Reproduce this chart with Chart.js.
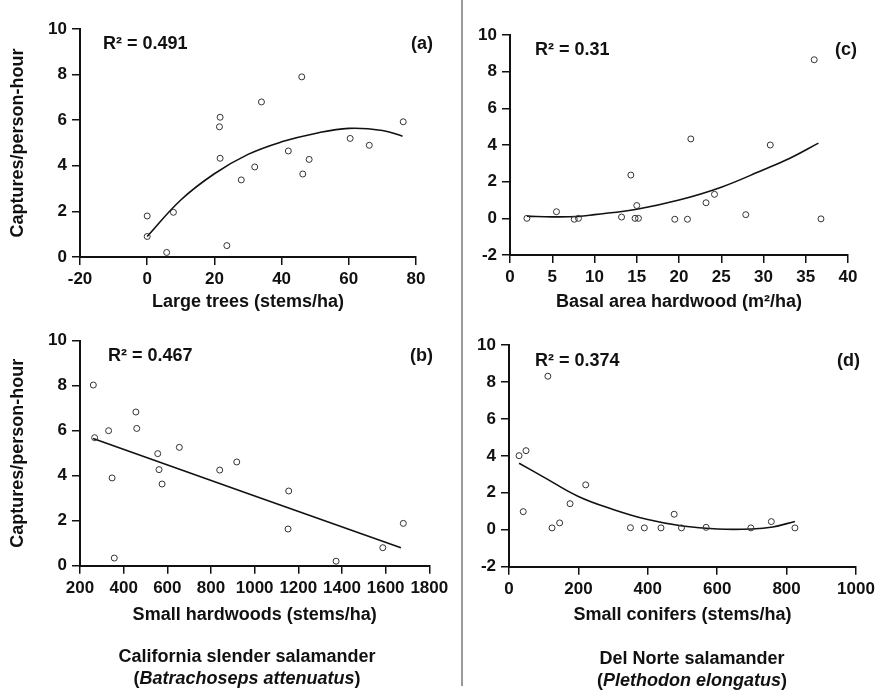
<!DOCTYPE html>
<html><head><meta charset="utf-8">
<script src="https://cdn.jsdelivr.net/npm/chart.js@4/dist/chart.umd.min.js"></script>
<style>
body{margin:0;background:#fff;width:881px;height:692px;position:relative;overflow:hidden;font-family:"Liberation Sans",Arial,sans-serif;}
canvas{position:absolute;}
.divider{position:absolute;left:461px;top:0;width:2px;height:686px;background:#9a9a9a;}
.cap{position:absolute;font-weight:bold;font-size:18px;color:#111;text-align:center;white-space:nowrap;transform:translateX(-50%);line-height:22px}
</style></head><body>
<canvas id="ca" width="440" height="320" style="left:0;top:0"></canvas>
<canvas id="cc" width="418" height="320" style="left:463px;top:0"></canvas>
<canvas id="cb" width="462" height="330" style="left:0;top:320px"></canvas>
<canvas id="cd" width="418" height="330" style="left:463px;top:320px"></canvas>
<div class="divider"></div>
<div class="cap" style="left:247px;top:645px">California slender salamander<br>(<i>Batrachoseps attenuatus</i>)</div>
<div class="cap" style="left:692px;top:647px">Del Norte salamander<br>(<i>Plethodon elongatus</i>)</div>
<script>
// ---- Data ----
// (a) Large trees vs captures
const largeTreesX = [0, 0, 5.8, 7.8, 21.7, 21.5, 21.7, 23.7, 28, 32, 34, 42, 46, 46.3, 48.2, 60.4, 66.1, 76.2];
const largeTreesY = [1.8, 0.9, 0.2, 1.96, 6.13, 5.71, 4.33, 0.5, 3.38, 3.95, 6.8, 4.65, 7.9, 3.64, 4.28, 5.2, 4.9, 5.93];
const largeTreesFitX = [0, 10, 20, 30, 40, 50, 60, 70, 76];
const largeTreesFitY = [0.9, 2.5, 3.65, 4.5, 5.05, 5.42, 5.64, 5.55, 5.3];
// (b) Small hardwoods
const smallHardX = [261, 267, 331, 347, 357, 456, 460, 556, 562, 576, 655, 840, 918, 1156, 1153, 1373, 1587, 1681];
const smallHardY = [8.03, 5.69, 6.0, 3.9, 0.34, 6.83, 6.1, 4.98, 4.27, 3.63, 5.26, 4.25, 4.61, 3.32, 1.63, 0.2, 0.8, 1.88];
const smallHardFitX = [260, 1670];
const smallHardFitY = [5.65, 0.8];
// (c) Basal area hardwood
const basalX = [2, 5.5, 7.6, 8.1, 13.2, 14.3, 14.8, 15, 15.2, 19.5, 21, 21.4, 23.2, 24.2, 27.9, 30.8, 36.0, 36.8];
const basalY = [0, 0.36, -0.05, 0, 0.07, 2.36, 0, 0.7, 0, -0.05, -0.05, 4.33, 0.85, 1.31, 0.2, 4.0, 8.65, -0.03];
const basalFitX = [2, 5, 8, 10, 15, 20, 25, 30, 33, 36.5];
const basalFitY = [0.12, 0.08, 0.1, 0.2, 0.5, 1.0, 1.7, 2.65, 3.25, 4.1];
// (d) Small conifers
const conifX = [29, 49, 41, 112, 124, 146, 176, 221, 350, 390, 438, 476, 497, 568, 697, 756, 824];
const conifY = [4.01, 4.28, 0.98, 8.31, 0.1, 0.37, 1.41, 2.43, 0.11, 0.1, 0.1, 0.84, 0.1, 0.13, 0.1, 0.44, 0.1];
const conifFitX = [29, 100, 200, 300, 400, 500, 600, 700, 760, 824];
const conifFitY = [3.6, 2.85, 1.8, 1.1, 0.55, 0.2, 0.04, 0.04, 0.15, 0.45];

const r2Labels = ['R\u00B2 = 0.491', 'R\u00B2 = 0.467', 'R\u00B2 = 0.31', 'R\u00B2 = 0.374'];
const panelTags = ['(a)', '(b)', '(c)', '(d)'];
const xTitles = ['Large trees (stems/ha)', 'Small hardwoods (stems/ha)', 'Basal area hardwood (m\u00B2/ha)', 'Small conifers (stems/ha)'];
const yTitle = 'Captures/person-hour';

// ---- helpers ----
const FONT = '"Liberation Sans", Arial, sans-serif';
const INK = '#111';
const zip = (xs, ys) => xs.map((x, i) => ({x, y: ys[i]}));

const annot = {
  id: 'annot',
  afterDraw(chart, args, o) {
    const ctx = chart.ctx; ctx.save();
    ctx.font = 'bold 18px ' + FONT;
    ctx.fillStyle = INK; ctx.textBaseline = 'middle';
    ctx.textAlign = 'left'; ctx.fillText(o.r2, o.rx, o.ry);
    ctx.textAlign = 'right'; ctx.fillText(o.tag, o.tx, o.ty);
    ctx.restore();
  }
};

function panel(id, p) {
  const axisCommon = {
    border: {display: true, color: '#111', width: 2},
    grid: {display: true, drawOnChartArea: false, drawTicks: true, tickLength: 8, tickColor: '#111', tickWidth: 1.5, lineWidth: 1.5},
  };
  new Chart(document.getElementById(id), {
    type: 'scatter',
    data: {datasets: [
      {data: zip(p.fx, p.fy), showLine: true, pointRadius: 0, borderColor: '#111', borderWidth: 1.6, tension: 0.4, clip: false, order: 2},
      {data: zip(p.x, p.y), pointRadius: 3, pointBorderWidth: 1, borderColor: '#333', backgroundColor: 'rgba(255,255,255,0)', clip: false, order: 1}
    ]},
    options: {
      responsive: false, animation: false, devicePixelRatio: 1,
      layout: {padding: p.pad},
      plugins: {legend: {display: false}, tooltip: {enabled: false}, annot: p.annot},
      scales: {
        x: Object.assign({}, axisCommon, {
          type: 'linear', min: p.xmin, max: p.xmax,
          afterFit: s => { s.height = p.xh; },
          ticks: {stepSize: p.xstep, autoSkip: false, maxRotation: 0, minRotation: 0, padding: 4, color: INK, font: {family: FONT, size: 17, weight: 'bold'}, callback: v => String(v)},
          title: {display: true, text: p.xtitle, color: INK, padding: {top: 0, bottom: 0}, font: {family: FONT, size: 18, weight: 'bold', lineHeight: 1}}
        }),
        y: Object.assign({}, axisCommon, {
          type: 'linear', min: p.ymin, max: 10,
          afterFit: s => { s.width = p.yw; },
          ticks: {stepSize: 2, autoSkip: false, padding: 5, color: INK, font: {family: FONT, size: 17, weight: 'bold'}, callback: v => String(v)},
          title: {display: !!p.ytitle, text: p.ytitle || '', color: INK, padding: {top: 9, bottom: 0}, font: {family: FONT, size: 18, weight: 'bold', lineHeight: 1}}
        })
      }
    },
    plugins: [annot]
  });
}

panel('ca', {x: largeTreesX, y: largeTreesY, fx: largeTreesFitX, fy: largeTreesFitY,
  xmin: -20, xmax: 80, xstep: 20, ymin: 0, xtitle: xTitles[0], ytitle: yTitle,
  pad: {left: 0, top: 29, right: 24, bottom: 9}, xh: 54, yw: 80,
  annot: {r2: r2Labels[0], rx: 103, ry: 44, tag: panelTags[0], tx: 433, ty: 44}});
panel('cb', {x: smallHardX, y: smallHardY, fx: smallHardFitX, fy: smallHardFitY,
  xmin: 200, xmax: 1800, xstep: 200, ymin: 0, xtitle: xTitles[1], ytitle: yTitle,
  pad: {left: 0, top: 20.7, right: 32.7, bottom: 26}, xh: 58.3, yw: 80,
  annot: {r2: r2Labels[1], rx: 108, ry: 36, tag: panelTags[1], tx: 433, ty: 36}});
panel('cc', {x: basalX, y: basalY, fx: basalFitX, fy: basalFitY,
  xmin: 0, xmax: 40, xstep: 5, ymin: -2, xtitle: xTitles[2], ytitle: null,
  pad: {left: 0, top: 35, right: 33, bottom: 9}, xh: 56, yw: 47,
  annot: {r2: r2Labels[2], rx: 72, ry: 50, tag: panelTags[2], tx: 394, ty: 50}});
panel('cd', {x: conifX, y: conifY, fx: conifFitX, fy: conifFitY,
  xmin: 0, xmax: 1000, xstep: 200, ymin: -2, xtitle: xTitles[3], ytitle: null,
  pad: {left: 0, top: 25, right: 25, bottom: 26}, xh: 57.3, yw: 46,
  annot: {r2: r2Labels[3], rx: 72, ry: 41, tag: panelTags[3], tx: 397, ty: 41}});
</script>
</body></html>
